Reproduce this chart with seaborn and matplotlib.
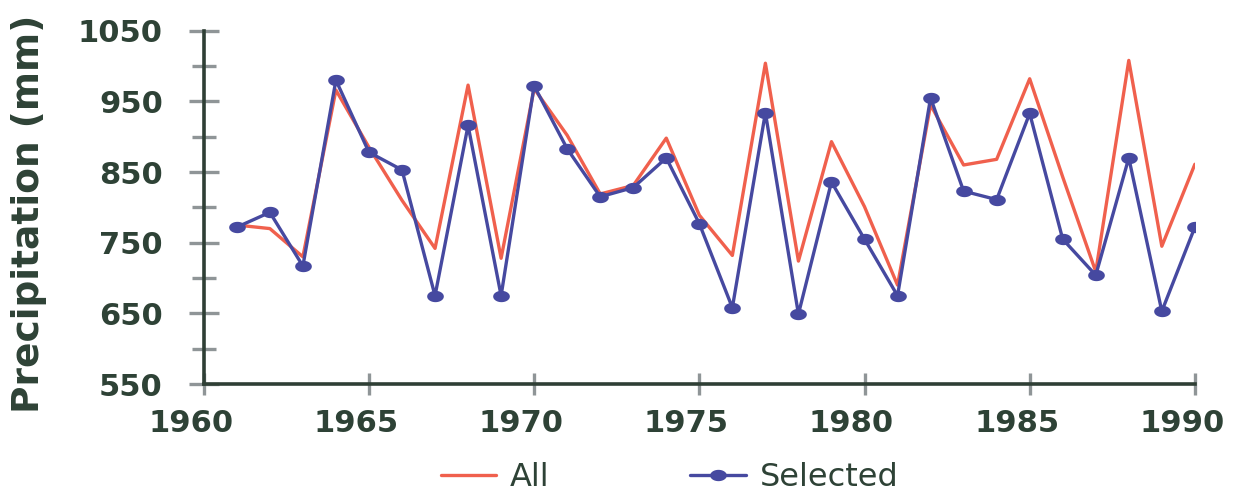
import numpy as np
import pandas as pd
import matplotlib
matplotlib.use("Agg")
import matplotlib.pyplot as plt
from matplotlib.path import Path
from matplotlib.ticker import FixedLocator
from matplotlib.transforms import ScaledTranslation
import seaborn as sns

years = list(range(1961, 1991))
all_values = [775, 770, 730, 966, 885, 810, 742, 973, 728, 968,
              902, 819, 831, 898, 789, 732, 1004, 724, 893, 801,
              690, 945, 860, 868, 982, 843, 709, 1008, 745, 861]
selected_values = [772, 793, 717, 980, 878, 853, 675, 916, 675, 972,
                   883, 815, 828, 870, 777, 658, 934, 649, 836, 755,
                   675, 955, 823, 811, 933, 755, 704, 870, 653, 772]
x_ticks = [1960, 1965, 1970, 1975, 1980, 1985, 1990]
y_ticks = [550, 650, 750, 850, 950, 1050]
y_minor = [600, 700, 800, 900, 1000]

RED = "#f0604d"
BLUE = "#4649a0"
TEXT = "#2e4236"
SPINE = "#2f3f35"
TICK = "#8f9597"

sns.set_style("white")
plt.rcParams["font.family"] = ["DejaVu Sans"]

df_all = pd.DataFrame({"Year": years, "Precipitation": all_values})
df_sel = pd.DataFrame({"Year": years, "Precipitation": selected_values})

# ellipse marker (wider than tall)
t = np.linspace(0, 2 * np.pi, 60)
ell = Path(np.column_stack([np.cos(t), 0.68 * np.sin(t)]), closed=True)

fig = plt.figure(figsize=(12.35, 4.93), dpi=100)
ax = fig.add_axes([0.165, 0.221, 0.8025, 0.7167])

sns.lineplot(data=df_all, x="Year", y="Precipitation", ax=ax, color=RED,
             linewidth=2.4, label="All")
sns.lineplot(data=df_sel, x="Year", y="Precipitation", ax=ax, color=BLUE,
             linewidth=2.4, marker=ell, markersize=12, markeredgewidth=0,
             markerfacecolor=BLUE, label="Selected")

ax.set_xlim(1960, 1990)
ax.set_ylim(550, 1050)
ax.set_xticks(x_ticks)
ax.set_xticklabels([str(v) for v in x_ticks])
ax.set_yticks(y_ticks)
ax.set_yticklabels([str(v) for v in y_ticks])
ax.yaxis.set_minor_locator(FixedLocator(y_minor))

for side in ["top", "right"]:
    ax.spines[side].set_visible(False)
for side in ["left", "bottom"]:
    ax.spines[side].set_color(SPINE)
    ax.spines[side].set_linewidth(2.6)

ax.tick_params(axis="y", which="major", left=True, direction="inout", length=21,
               width=2.4, color=TICK, labelsize=22, labelcolor=TEXT, pad=19)
ax.tick_params(axis="y", which="minor", left=True, direction="inout", length=17,
               width=2.4, color=TICK)
ax.tick_params(axis="x", which="major", bottom=True, direction="inout", length=16,
               width=2.4, color=TICK, labelsize=22, labelcolor=TEXT, pad=10)
shift = ScaledTranslation(-13 / 100, 0, fig.dpi_scale_trans)
for lab in ax.get_xticklabels():
    lab.set_fontweight("bold")
    lab.set_transform(lab.get_transform() + shift)
for lab in ax.get_yticklabels():
    lab.set_fontweight("bold")

ax.set_xlabel("")
ax.set_ylabel("Precipitation (mm)", fontsize=27, fontweight="bold", color=TEXT)
ax.yaxis.set_label_coords(-0.158, 0.481)

handles, labels = ax.get_legend_handles_labels()
ax.get_legend().remove()
leg = fig.legend(handles, labels, loc="center", bbox_to_anchor=(0.542, 0.032),
                 bbox_transform=fig.transFigure, ncol=2, frameon=False,
                 fontsize=23, handlelength=1.75, columnspacing=4.4,
                 handletextpad=0.42, borderaxespad=0, borderpad=0)
for txt in leg.get_texts():
    txt.set_color(TEXT)

fig.savefig("out.png", dpi=100)
